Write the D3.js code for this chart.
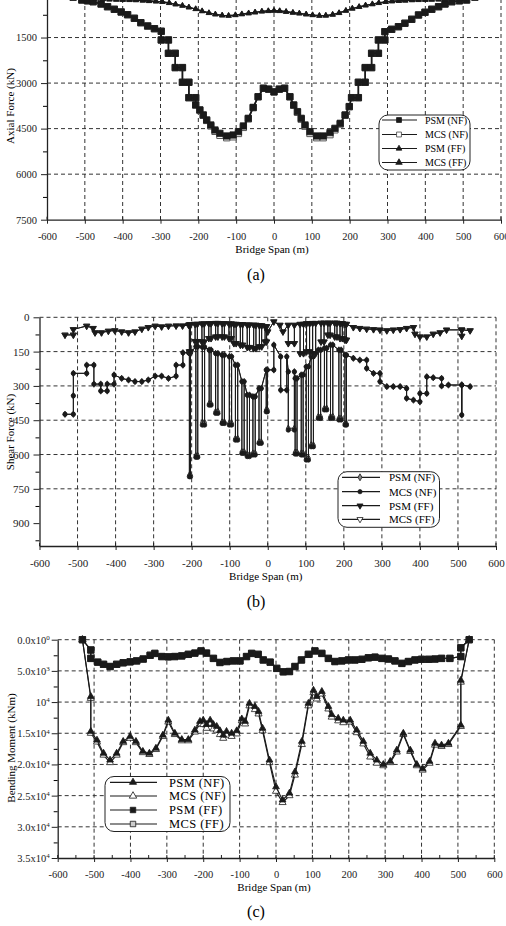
<!DOCTYPE html>
<html>
<head>
<meta charset="utf-8">
<script src="https://cdn.jsdelivr.net/npm/d3@7"></script>
<style>
  body { margin: 0; background: #fff; }
</style>
</head>
<body>
<svg id="chart"></svg>
<script>
// ticks / labels
const spanTicks = [-600, -500, -400, -300, -200, -100, 0, 100, 200, 300, 400, 500, 600];
const spanMinor = [-550, -450, -350, -250, -150, -50, 50, 150, 250, 350, 450, 550];
const axialTicks = [0, 1500, 3000, 4500, 6000, 7500];
const axialMinor = [750, 2250, 3750, 5250, 6750];
const shearTicks = [0, 150, 300, 450, 600, 750, 900];
const shearMinor = [75, 225, 375, 525, 675, 825, 975];
const momentTicks = [0, 5000, 10000, 15000, 20000, 25000, 30000, 35000];
const momentMinor = [2500, 7500, 12500, 17500, 22500, 27500, 32500];
const momentTickText = [["0.0x10", "0"], ["5.0x10", "3"], ["10", "4"], ["1.5x10", "4"],
  ["2.0x10", "4"], ["2.5x10", "4"], ["3.0x10", "4"], ["3.5x10", "4"]];
const seriesNames = ["PSM (NF)", "MCS (NF)", "PSM (FF)", "MCS (FF)"];

// (a) axial force, kN
const axialNFspan = [-531, -508, -493, -478, -457, -440, -422, -404, -387, -369, -352, -334, -316, -298, -298,
  -279, -279, -261, -261, -242, -242, -225, -225, -207, -207, -196, -187, -178, -167, -156, -143, -125, -108,
  -94, -81, -68, -55, -42, -28, -14, 0, 14, 28, 42, 52, 62, 72, 82, 95, 113, 130, 148, 161, 175, 188, 199,
  205, 223, 223, 241, 241, 258, 258, 276, 276, 293, 293, 311, 329, 346, 364, 382, 399, 417, 435, 452, 470,
  490, 509, 531];
const axialPsmNF = [170, 263, 290, 320, 395, 484, 570, 658, 747, 866, 1010, 1120, 1208, 1294, 1580,
  1580, 2020, 2020, 2490, 2490, 2974, 2974, 3480, 3480, 3720, 3885, 4050, 4215, 4380, 4545, 4654, 4742, 4710,
  4600, 4412, 4160, 3800, 3450, 3170, 3200, 3290, 3200, 3170, 3450, 3720, 3940, 4160, 4380, 4600, 4742, 4742,
  4632, 4490, 4325, 4050, 3775, 3480, 3480, 2974, 2974, 2490, 2490, 2020, 2020, 1580, 1580, 1307, 1230, 1142,
  1030, 900, 757, 668, 570, 484, 395, 320, 290, 263, 170];
const axialMcsNF = [170, 263, 290, 320, 395, 484, 570, 658, 747, 866, 1010, 1120, 1208, 1294, 1580,
  1580, 2020, 2020, 2490, 2490, 2974, 2974, 3480, 3480, 3720, 3890, 4060, 4230, 4410, 4590, 4720, 4800, 4770,
  4660, 4460, 4180, 3810, 3450, 3170, 3200, 3290, 3200, 3170, 3450, 3730, 3960, 4190, 4420, 4660, 4800, 4800,
  4700, 4540, 4350, 4060, 3775, 3480, 3480, 2974, 2974, 2490, 2490, 2020, 2020, 1580, 1580, 1307, 1230, 1142,
  1030, 900, 757, 668, 570, 484, 395, 320, 290, 263, 170];
const axialFFspan = [-540, -522, -505, -487, -470, -452, -435, -417, -400, -382, -365, -347, -330, -312, -295,
  -277, -260, -242, -225, -207, -190, -172, -155, -137, -120, -102, -85, -67, -50, -32, -15, 0, 15, 32, 50, 67,
  85, 102, 120, 137, 155, 172, 190, 207, 225, 242, 260, 277, 295, 312, 330, 347, 365, 382, 400, 417, 435, 452,
  470, 487, 505, 522, 540];
const axialPsmFF = [60, 110, 150, 185, 210, 230, 245, 252, 258, 262, 268, 280, 296, 310, 325,
  360, 405, 450, 505, 560, 630, 690, 735, 770, 780, 760, 730, 700, 670, 640, 625, 615, 625, 650, 680, 705,
  735, 760, 780, 775, 745, 690, 615, 545, 490, 440, 400, 360, 325, 305, 290, 280, 268, 262, 258, 252, 245, 230,
  210, 185, 150, 110, 60];
const axialMcsFF = axialPsmFF;

// (b) shear force, kN  -- comb rows: [x1, x2, top, bottom PSM, bottom MCS]
const shearNFLeft = [[-533, 424], [-511, 424], [-511, 343], [-511, 245], [-476, 245], [-476, 209], [-457, 209],
  [-457, 292], [-439, 292], [-439, 322], [-422, 322], [-422, 292], [-404, 292], [-404, 252], [-384, 267],
  [-366, 274], [-349, 281], [-331, 281], [-314, 274], [-296, 257], [-279, 257], [-261, 267], [-241, 257],
  [-241, 209], [-223, 209], [-223, 155], [-208, 155]];
const shearNFCombL = [[-206, -203, 155, 690, 697], [-189, -184, 128, 605, 612], [-172, -166, 130, 460, 471],
  [-154, -149, 143, 378, 384], [-137, -131, 158, 412, 420], [-120, -114, 165, 458, 464], [-101, -95, 172, 463, 471],
  [-85, -79, 209, 530, 537], [-68, -62, 281, 588, 595], [-54, -48, 340, 600, 609], [-39, -33, 347, 594, 602],
  [-23, -17, 311, 545, 551], [-4, -1, 230, 405, 413]];
const shearNFMid = [[16, 230], [16, 121]];
const shearNFCombR = [[34, 50, 172, 318, 318], [54, 70, 238, 485, 493], [72, 77, 267, 590, 598],
  [88, 93, 252, 594, 602], [101, 107, 216, 615, 624], [114, 120, 172, 558, 566], [133, 139, 143, 434, 442],
  [149, 155, 135, 398, 405], [165, 171, 121, 434, 442], [187, 193, 143, 441, 449], [203, 207, 165, 465, 471]];
const shearNFRight = [[225, 179], [242, 187], [260, 187], [260, 223], [278, 245], [295, 245], [295, 281],
  [313, 303], [330, 303], [348, 303], [365, 311], [365, 354], [383, 362], [400, 369], [400, 333], [418, 333],
  [418, 260], [435, 264], [457, 267], [457, 300], [475, 296], [510, 296], [510, 427], [510, 296], [532, 303]];
// FF comb rows: [x1, x2, top, bottom]
const shearFFLeft = [[-533, 77], [-511, 77], [-511, 53], [-476, 38], [-459, 48], [-454, 67], [-437, 67],
  [-419, 60], [-402, 58], [-384, 63], [-366, 67], [-349, 63], [-331, 51], [-314, 44], [-296, 38], [-279, 41],
  [-261, 38], [-241, 37], [-224, 37], [-208, 34]];
const shearFFCombL = [[-206, -203, 32, 150], [-191, -185, 30, 105], [-173, -167, 28, 107], [-155, -149, 27, 92],
  [-137, -131, 26, 85], [-120, -114, 27, 85], [-102, -96, 28, 92], [-89, -83, 30, 114], [-72, -66, 31, 121],
  [-54, -48, 33, 131], [-37, -31, 34, 136], [-22, -16, 36, 128], [-7, -3, 40, 107]];
const shearFFMid = [[0, 63], [16, 19], [32, 34], [40, 63]];
const shearFFCombR = [[54, 70, 34, 114], [85, 94, 30, 158], [102, 110, 27, 150], [118, 126, 26, 158],
  [140, 148, 25, 107], [158, 164, 25, 77], [176, 182, 25, 85], [190, 196, 27, 92], [203, 207, 30, 99]];
const shearFFRight = [[225, 44], [242, 48], [260, 51], [278, 53], [295, 55], [313, 58], [330, 55], [348, 53],
  [365, 48], [383, 44], [387, 73], [400, 85], [418, 85], [435, 73], [453, 67], [470, 55], [510, 55], [510, 82],
  [510, 55], [532, 58]];

// (c) bending moment, kNm
const momentNFspan = [-532, -509, -509, -492, -474, -456, -438, -420, -401, -385, -366, -348, -330, -311, -296,
  -278, -259, -241, -223, -209, -200, -191, -181, -172, -163, -154, -145, -136, -122, -108, -94, -85, -73, -58,
  -48, -37, -18, 0, 18, 37, 52, 71, 89, 103, 112, 126, 144, 153, 171, 185, 204, 222, 240, 259, 277, 295, 314,
  332, 350, 369, 387, 403, 422, 437, 455, 474, 508, 508, 531];
const momentPsmNF = [0, 9100, 14700, 16100, 18200, 19300, 18200, 16300, 15500, 16300, 17900, 18200, 17400,
  15300, 12900, 15000, 16000, 16000, 14500, 13100, 12900, 13600, 12900, 13600, 13900, 14600, 15300, 14700,
  15000, 14600, 12700, 13100, 10200, 10700, 11500, 14200, 19300, 23600, 25700, 24600, 21200, 16300, 10200,
  8100, 9100, 8300, 10700, 12000, 12600, 12900, 12900, 14500, 16300, 18200, 19300, 20000, 19500, 17700, 15000,
  17700, 20000, 20700, 19500, 16600, 16900, 16600, 13700, 6500, 0];
const momentMcsNF = [0, 9400, 15000, 16400, 18500, 19700, 18500, 16500, 15800, 16500, 18100, 18400, 17600,
  15500, 13200, 15200, 16200, 16200, 14800, 13500, 13600, 14200, 13500, 14300, 14500, 15200, 15800, 15300,
  15500, 15100, 13000, 13500, 10600, 11200, 11900, 14600, 19700, 24300, 26100, 25000, 21700, 16800, 10600,
  8500, 9500, 8700, 11100, 12400, 13000, 13300, 13200, 14900, 16700, 18800, 19800, 20200, 19700, 18000, 15200,
  17900, 20200, 20900, 19800, 16900, 17100, 16800, 13900, 6800, 0];
const momentFFspan = [-532, -509, -509, -490, -474, -456, -438, -420, -401, -383, -365, -346, -333, -314, -296,
  -278, -259, -241, -223, -206, -191, -172, -154, -135, -117, -99, -81, -67, -49, -35, -16, 2, 20, 37, 52, 70,
  89, 107, 126, 144, 162, 181, 199, 217, 236, 254, 272, 291, 309, 327, 346, 364, 382, 400, 419, 437, 455, 478,
  508, 508, 531];
const momentPsmFF = [0, 1650, 3000, 3600, 3950, 4300, 3950, 3700, 3550, 3400, 3100, 2500, 2200, 2700, 2750,
  2700, 2600, 2350, 2150, 1800, 2150, 3000, 3650, 3500, 3400, 3400, 2700, 2200, 2350, 3250, 3600, 4600, 5150,
  5100, 4300, 3250, 2350, 1800, 2200, 3000, 3500, 3400, 3250, 3250, 3150, 2900, 2800, 3000, 3100, 3400, 3800,
  3500, 3250, 3150, 3150, 3100, 3000, 3000, 2700, 1300, 0];
const momentMcsFF = momentPsmFF;

const W = 506, H = 926;
const ink = "#1a1a1a";
const serif = "'Liberation Serif', 'Times New Roman', 'DejaVu Serif', serif";

const svg = d3.select("svg#chart").attr("width", W).attr("height", H);
svg.append("rect").attr("width", W).attr("height", H).attr("fill", "#fff");

const zip = (xs, vs) => xs.map((d, i) => [d, vs[i]]);
const comb = (rows, bi) => rows.flatMap(r => [[r[0], r[2]], [r[0], r[bi]], [r[1], r[bi]], [r[1], r[2]]]);

//axes, grid and titles of one panel
function drawPanel(p) {
  const g = svg.append("g");
  const x = d3.scaleLinear().domain([-600, 600]).range(p.xr);
  const y = d3.scaleLinear().domain(p.yd).range(p.yr);
  const left = p.xr[0], right = p.xr[1], top = p.yr[0], bottom = p.yr[1];

  const grid = g.append("g").attr("stroke", "#333").attr("stroke-width", 1).attr("stroke-dasharray", "4,3");
  grid.selectAll("line.vx").data(spanTicks.slice(1)).join("line")
    .attr("x1", d => x(d)).attr("x2", d => x(d)).attr("y1", top).attr("y2", bottom);
  grid.selectAll("line.hy").data(p.yTicks.slice(0, -1)).join("line")
    .attr("x1", left).attr("x2", right).attr("y1", d => y(d)).attr("y2", d => y(d));

  // left axis
  g.append("g").attr("transform", "translate(" + left + ",0)")
    .call(d3.axisLeft(y).tickValues(p.yMinor).tickSize(4).tickFormat(""))
    .call(s => s.select(".domain").remove());
  const ya = g.append("g").attr("transform", "translate(" + left + ",0)")
    .call(d3.axisLeft(y).tickValues(p.yTicks).tickSize(6).tickSizeOuter(0).tickPadding(p.yPad)
      .tickFormat(d => (y(d) < 4 ? "" : String(d))));
  ya.attr("font-size", p.tickFont + "px").style("color", "#222");
  ya.select(".domain").attr("stroke-width", 1.3);

  // bottom axis
  const xa = g.append("g").attr("transform", "translate(0," + bottom + ")")
    .call(d3.axisBottom(x).tickValues(spanTicks).tickSize(4).tickSizeOuter(0).tickPadding(9).tickFormat(d => String(d)));
  xa.attr("font-size", p.tickFont + "px").style("color", "#222");
  xa.select(".domain").attr("stroke-width", 1.3);
  g.append("g").attr("stroke", "#222").selectAll("line").data(spanTicks.concat(p.xMinor || [])).join("line")
    .attr("x1", d => x(d)).attr("x2", d => x(d)).attr("y1", bottom).attr("y2", bottom - 3);

  g.append("text").attr("x", (left + right) / 2 - 2).attr("y", p.xTitleY)
    .attr("text-anchor", "middle").attr("font-size", "11px").text("Bridge Span (m)");
  g.append("text").attr("transform", "translate(" + p.yTitleX + "," + p.yTitleC + ") rotate(-90)")
    .attr("text-anchor", "middle").attr("font-size", "11px").text(p.yTitle);
  g.append("text").attr("x", 256).attr("y", p.letterY).attr("text-anchor", "middle")
    .attr("font-size", "16px").text(p.letter);

  return { g: g, x: x, y: y, ya: ya };
}

function drawSeries(P, pts, s) {
  const layer = P.g.append("g");
  layer.append("path").datum(pts)
    .attr("d", d3.line().x(d => P.x(d[0])).y(d => P.y(d[1])))
    .attr("fill", "none").attr("stroke", ink).attr("stroke-width", s.lw);
  layer.selectAll("path.m").data(pts).join("path").attr("class", "m")
    .attr("transform", d => "translate(" + P.x(d[0]) + "," + P.y(d[1]) + ")" + (s.down ? " rotate(180)" : ""))
    .attr("d", d3.symbol(s.type, s.size))
    .attr("fill", s.fill).attr("stroke", s.stroke || ink).attr("stroke-width", s.sw || 0.8);
}

function drawLegend(L) {
  const g = svg.append("g");
  g.append("rect").attr("x", L.box[0]).attr("y", L.box[1]).attr("width", L.box[2]).attr("height", L.box[3])
    .attr("rx", 9).attr("fill", "#fff").attr("stroke", "#222").attr("stroke-width", 1);
  L.styles.forEach((s, i) => {
    const yy = L.rows[i];
    g.append("line").attr("x1", L.line[0]).attr("x2", L.line[1]).attr("y1", yy).attr("y2", yy)
      .attr("stroke", ink).attr("stroke-width", 1.2);
    g.append("path").attr("transform", "translate(" + L.mark + "," + yy + ")" + (s.down ? " rotate(180)" : ""))
      .attr("d", d3.symbol(s.type, s.size)).attr("fill", s.fill).attr("stroke", s.stroke || ink).attr("stroke-width", 0.8);
    g.append("text").attr("x", L.text).attr("y", yy).attr("dy", "0.35em")
      .attr("font-size", L.font + "px").attr("letter-spacing", L.ls || 0).text(seriesNames[i]);
  });
}

// ---------- (a)
const A = drawPanel({
  xr: [47, 501], yd: [0, 7500], yr: [-8, 219.7], yTicks: axialTicks, yMinor: axialMinor, yPad: 4, tickFont: 10.5,
  xTitleY: 253, yTitle: "Axial Force (kN)", yTitleX: 14, yTitleC: 106, letter: "(a)", letterY: 280
});
const aSq = { type: d3.symbolSquare, size: 40, lw: 1.5 };
drawSeries(A, zip(axialNFspan, axialMcsNF), Object.assign({}, aSq, { fill: "#fff", stroke: "#555", sw: 1 }));
drawSeries(A, zip(axialNFspan, axialPsmNF), Object.assign({}, aSq, { fill: ink }));
drawSeries(A, zip(axialFFspan, axialMcsFF), { type: d3.symbolTriangle, size: 14, lw: 1.3, fill: ink });
drawSeries(A, zip(axialFFspan, axialPsmFF), { type: d3.symbolTriangle, size: 11, lw: 1.3, fill: ink });
drawLegend({
  box: [379, 115, 91, 55], rows: [120, 134.5, 148.5, 162.5], line: [382, 417], mark: 399, text: 425, font: 10,
  styles: [{ type: d3.symbolSquare, size: 24, fill: ink }, { type: d3.symbolSquare, size: 24, fill: "#fff", stroke: "#444" },
    { type: d3.symbolTriangle, size: 14, fill: ink }, { type: d3.symbolTriangle, size: 18, fill: ink }]
});

// ---------- (b)
const B = drawPanel({
  xr: [39.5, 496], yd: [0, 1000], yr: [317.3, 546], yTicks: shearTicks, yMinor: shearMinor, yPad: 4, tickFont: 11,
  xTitleY: 580, yTitle: "Shear Force (kN)", yTitleX: 14, yTitleC: 432, letter: "(b)", letterY: 607
});
const nfPsm = [].concat(shearNFLeft, comb(shearNFCombL, 3), shearNFMid, comb(shearNFCombR, 3), shearNFRight);
const nfMcs = [].concat(shearNFLeft, comb(shearNFCombL, 4), shearNFMid, comb(shearNFCombR, 4), shearNFRight);
const ffPts = [].concat(shearFFLeft, comb(shearFFCombL, 3), shearFFMid, comb(shearFFCombR, 3), shearFFRight);
drawSeries(B, nfPsm, { type: d3.symbolDiamond, size: 12, lw: 1, fill: "#888" });
drawSeries(B, nfMcs, { type: d3.symbolCircle, size: 15, lw: 1, fill: ink });
drawSeries(B, ffPts, { type: d3.symbolTriangle, size: 18, lw: 1, fill: "#fff", down: true });
drawSeries(B, ffPts, { type: d3.symbolTriangle, size: 16, lw: 1, fill: ink, down: true });
drawLegend({
  box: [338, 471.7, 101.5, 55.6], rows: [477.3, 491.7, 505.7, 519.3], line: [342, 380], mark: 360, text: 389, font: 11,
  styles: [{ type: d3.symbolDiamond, size: 14, fill: "#888" }, { type: d3.symbolCircle, size: 14, fill: ink },
    { type: d3.symbolTriangle, size: 16, fill: ink, down: true }, { type: d3.symbolTriangle, size: 16, fill: "#fff", down: true }]
});

// ---------- (c)
const C = drawPanel({
  xr: [57.7, 494.3], yd: [0, 35000], yr: [639.7, 858], yTicks: momentTicks, yMinor: momentMinor, yPad: 2,
  tickFont: 10.5, xMinor: spanMinor,
  xTitleY: 890.5, yTitle: "Bending Moment (kNm)", yTitleX: 15, yTitleC: 748, letter: "(c)", letterY: 917
});
C.ya.selectAll(".tick text").each(function (d) {
  const lab = momentTickText[momentTicks.indexOf(d)];
  const t = d3.select(this).text(null);
  t.append("tspan").text(lab[0]);
  t.append("tspan").attr("dy", "-0.5em").attr("font-size", "7px").text(lab[1]);
});
drawSeries(C, zip(momentNFspan, momentMcsNF), { type: d3.symbolTriangle, size: 22, lw: 1.1, fill: "#fff" });
drawSeries(C, zip(momentNFspan, momentPsmNF), { type: d3.symbolTriangle, size: 20, lw: 1.1, fill: ink });
drawSeries(C, zip(momentFFspan, momentMcsFF), { type: d3.symbolSquare, size: 40, lw: 1.2, fill: "#ccc" });
drawSeries(C, zip(momentFFspan, momentPsmFF), { type: d3.symbolSquare, size: 40, lw: 1.2, fill: ink });
drawLegend({
  box: [105, 776.5, 125, 55], rows: [782.3, 796, 810, 824], line: [110, 157], mark: 133, text: 169, font: 12.5, ls: 0.4,
  styles: [{ type: d3.symbolTriangle, size: 22, fill: ink }, { type: d3.symbolTriangle, size: 24, fill: "#fff" },
    { type: d3.symbolSquare, size: 30, fill: ink }, { type: d3.symbolSquare, size: 30, fill: "#ccc" }]
});

// serif face for every text, axis groups included
svg.selectAll("g").attr("font-family", null);
svg.selectAll("text").style("font-family", serif);
</script>
</body>
</html>
